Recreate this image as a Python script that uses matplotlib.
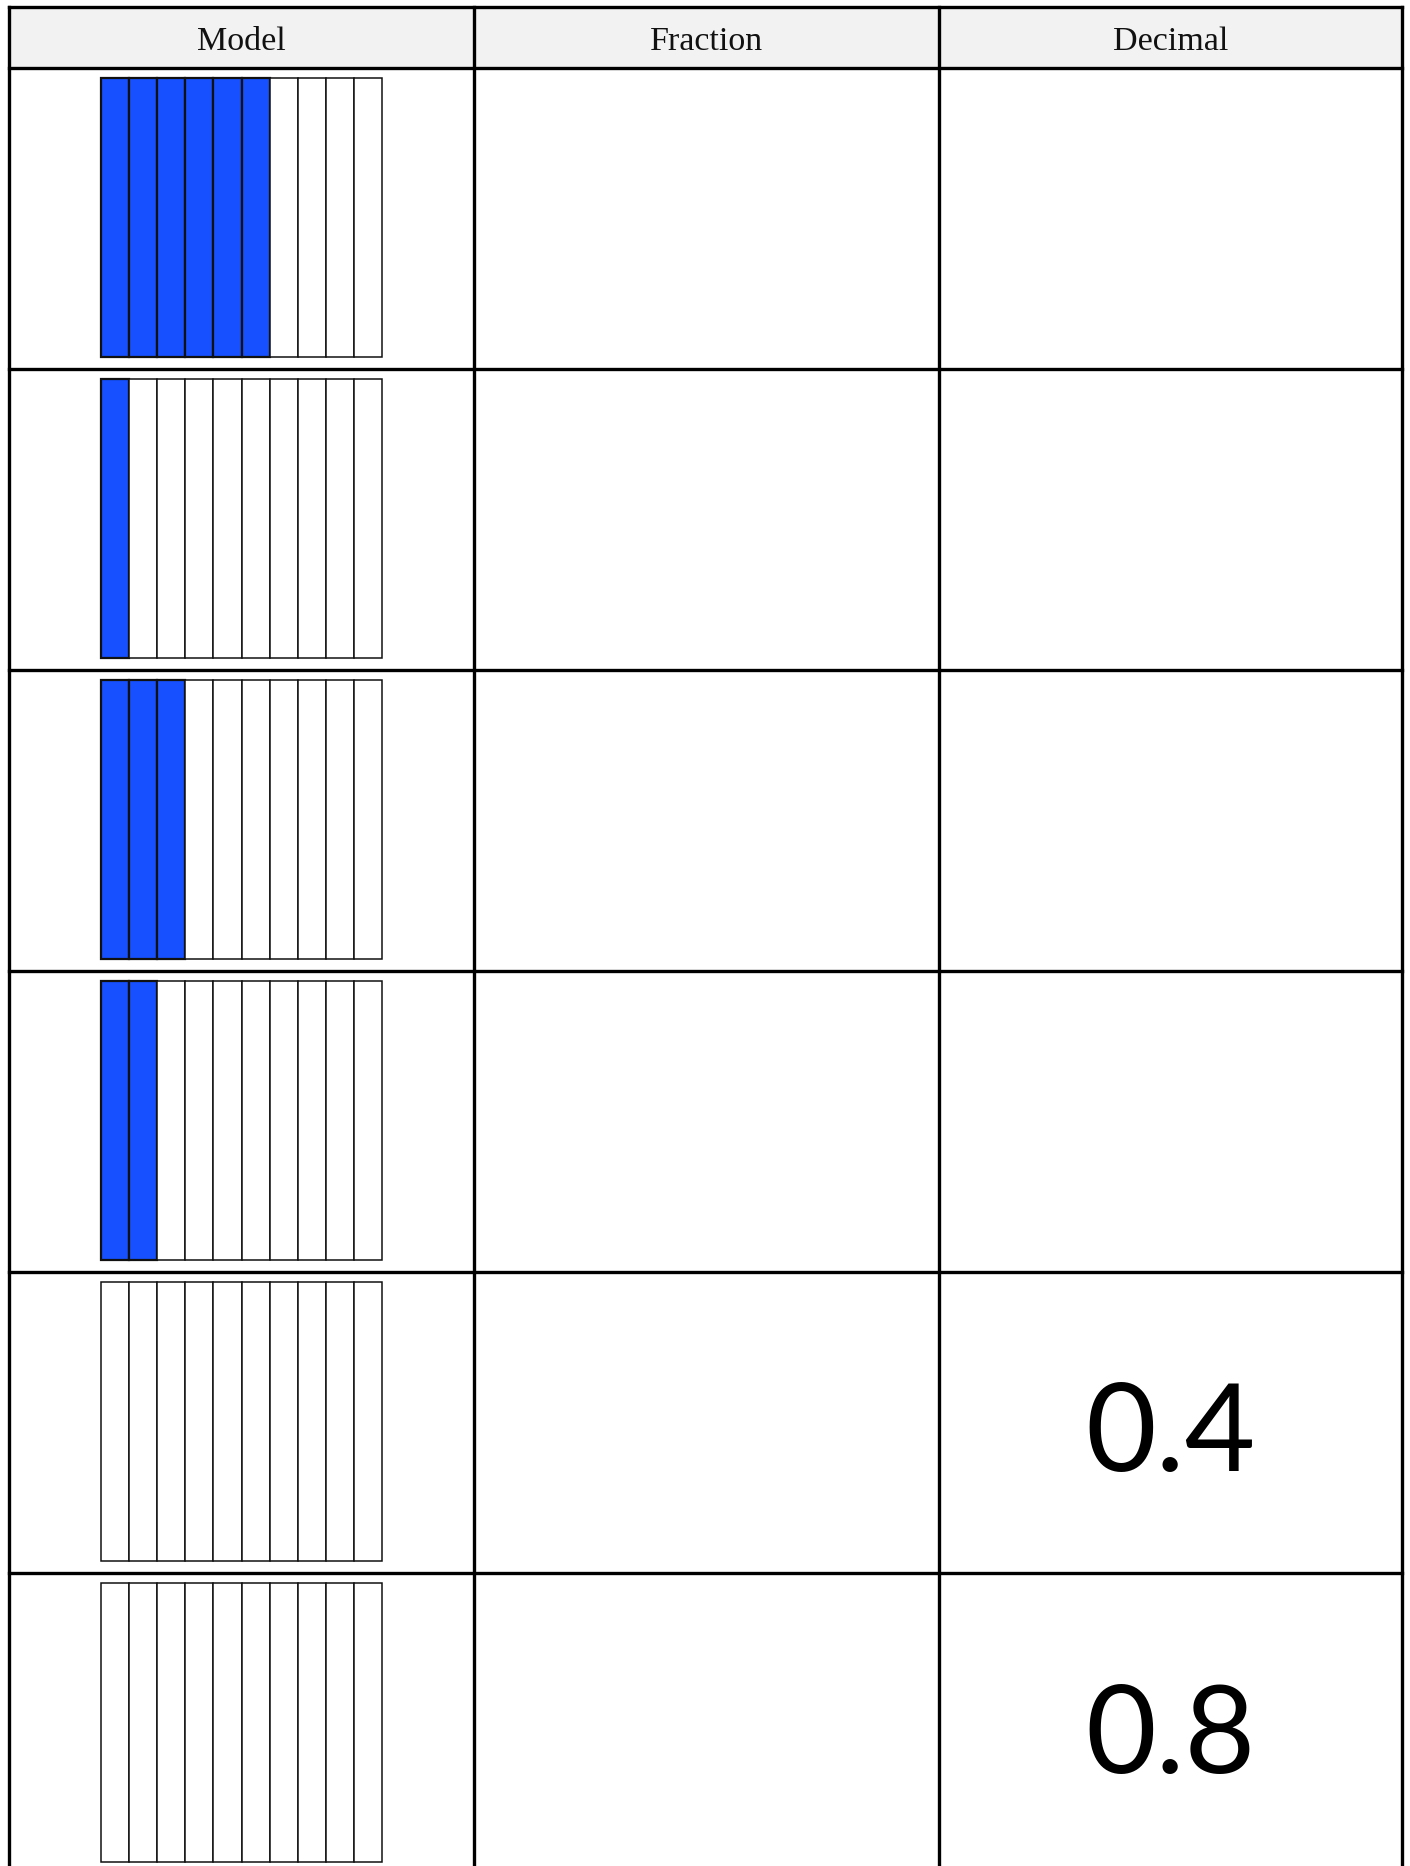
import matplotlib
matplotlib.use("Agg")
import matplotlib.pyplot as plt
from matplotlib.patches import Rectangle

# table content
headers = ["Model", "Fraction", "Decimal"]
shaded = [6, 1, 3, 2, 0, 0]          # blue strips out of ten, per row
fractions = ["", "", "", "", "", ""]
decimals = ["", "", "", "", "0.4", "0.8"]
n_strips = 10

# layout in pixels (figure is 1410 x 1866 at dpi 100)
W, H = 1410, 1866
col_x = [8.5, 473.5, 939, 1402]
head_top, head_bot = 6.5, 68
row_h = 301
grid_x0, grid_w = 101, 281
grid_pad, grid_h = 10, 279
blue = "#1650ff"

fig = plt.figure(figsize=(W / 100, H / 100), dpi=100)
ax = fig.add_axes([0, 0, 1, 1])
ax.set_xlim(0, W)
ax.set_ylim(H, 0)
ax.axis("off")

# header band
ax.add_patch(Rectangle((col_x[0], head_top), col_x[-1] - col_x[0], head_bot - head_top,
                       facecolor="#f2f2f2", edgecolor="none", zorder=0))
for j, h in enumerate(headers):
    ax.text((col_x[j] + col_x[j + 1]) / 2, (head_top + head_bot) / 2 + 4, h,
            ha="center", va="center", fontsize=24.5, family="Liberation Serif", color="#111111")

lw = 2.4
row_lines = [head_bot + i * row_h for i in range(len(shaded))]
ax.plot([col_x[0], col_x[-1]], [head_top, head_top], color="black", lw=lw, solid_capstyle="projecting")
for y in row_lines:
    ax.plot([col_x[0], col_x[-1]], [y, y], color="black", lw=lw, solid_capstyle="projecting")
for x in col_x:
    ax.plot([x, x], [head_top, H + 5], color="black", lw=lw, solid_capstyle="projecting")

sw = grid_w / n_strips
for i, n in enumerate(shaded):
    top = row_lines[i] + grid_pad
    for k in range(n_strips):
        fc = blue if k < n else "white"
        ax.add_patch(Rectangle((grid_x0 + k * sw, top), sw, grid_h,
                               facecolor=fc, edgecolor="#111111",
                               lw=1.6 if k < n else 1.1, zorder=2))
    cy = row_lines[i] + row_h / 2
    if fractions[i]:
        ax.text((col_x[1] + col_x[2]) / 2, cy, fractions[i], ha="center", va="center",
                fontsize=90, family="Lato")
    if decimals[i]:
        ax.text((col_x[2] + col_x[3]) / 2, cy + 4, decimals[i], ha="center", va="center_baseline",
                fontsize=88, family="Lato", color="black")

fig.savefig("out.png", dpi=100)
